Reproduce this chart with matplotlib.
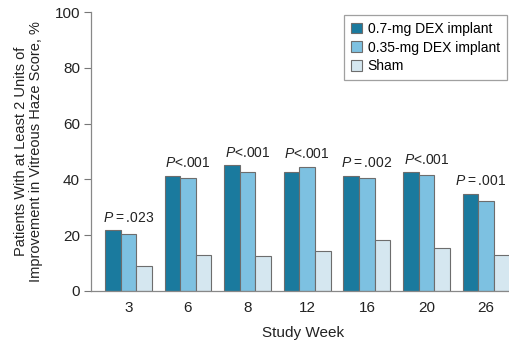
import matplotlib.pyplot as plt
import numpy as np

plt.rcParams['font.family'] = ['Liberation Sans', 'DejaVu Sans']
plt.rcParams['mathtext.fontset'] = 'custom'
plt.rcParams['mathtext.it'] = 'Liberation Sans:italic'
plt.rcParams['mathtext.rm'] = 'Liberation Sans'

weeks = ['3', '6', '8', '12', '16', '20', '26']
dex07 = [21.7, 41.3, 45.0, 42.7, 41.3, 42.5, 34.8]
dex035 = [20.4, 40.4, 42.8, 44.6, 40.4, 41.7, 32.2]
sham = [9.0, 12.8, 12.7, 14.2, 18.2, 15.3, 13.0]
pvals = ['=.023', '<.001', '<.001', '<.001', '=.002', '<.001', '=.001']

series = [('0.7-mg DEX implant', dex07, '#1a7a9e'),
          ('0.35-mg DEX implant', dex035, '#7dc1e1'),
          ('Sham', sham, '#d5e7f0')]

W, H = 509, 348
fig = plt.figure(figsize=(W / 100, H / 100), dpi=100)
ax = fig.add_axes([91 / W, (H - 291) / H, 425 / W, 279 / H])

x = np.arange(len(weeks))
bw = 0.262
for i, (name, vals, col) in enumerate(series):
    ax.bar(x + (i - 1) * bw, vals, bw, color=col, edgecolor='#6d6d6d',
           linewidth=0.8, label=name)

for xi, p, a, b in zip(x, pvals, dex07, dex035):
    lbl = '$\\it{P}$' + (p.replace('=', '\u2009=\u2009') if p.startswith('=') else p)
    # the last label sits at the figure edge, nudge it in a little
    dx = -4 if xi == x[-1] else 0
    ax.annotate(lbl, (xi, max(a, b) + 2.0), xytext=(dx, 0), textcoords='offset points',
                ha='center', va='bottom', fontsize=10, color='#222222')

ax.set_xlim(-0.626, 6.5)
ax.set_ylim(0, 100)
ax.set_yticks(range(0, 101, 20))
ax.set_xticks(x)
ax.set_xticklabels(weeks)
ax.tick_params(axis='y', length=5, width=0.8, color='#777777', labelsize=11,
               labelcolor='#222222', pad=3)
ax.tick_params(axis='x', length=0, labelsize=11, labelcolor='#222222', pad=7)
for s in ['top', 'right']:
    ax.spines[s].set_visible(False)
for s in ['left', 'bottom']:
    ax.spines[s].set_color('#888888')
    ax.spines[s].set_linewidth(0.9)

ax.set_xlabel('Study Week', fontsize=11, color='#222222', labelpad=8)
ax.set_ylabel('Patients With at Least 2 Units of\nImprovement in Vitreous Haze Score, %',
              fontsize=10.5, color='#222222', labelpad=8, linespacing=1.15)

leg = ax.legend(loc='upper left', bbox_to_anchor=((344 - 91) / 425, 0.99),
                frameon=True, fancybox=False, fontsize=10, handlelength=0.8,
                handleheight=0.8, handletextpad=0.4, labelspacing=0.35,
                borderpad=0.5, borderaxespad=0.0)
leg.get_frame().set_edgecolor('#888888')
leg.get_frame().set_linewidth(0.9)
for h in leg.legend_handles:
    h.set_edgecolor('#6d6d6d')

fig.savefig('out.png', dpi=100)
